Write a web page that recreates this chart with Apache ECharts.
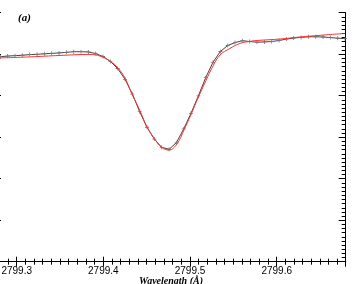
<!DOCTYPE html>
<html>
<head>
<meta charset="utf-8">
<script src="https://cdn.jsdelivr.net/npm/echarts@6/dist/echarts.min.js"></script>
<style>html,body{margin:0;padding:0;background:#fff}#c{width:357px;height:284px}</style>
</head>
<body>
<div id="c"></div>
<script>
// Observed spectrum (wavelength in Å, normalized intensity)
const obsWave = [2799.2812,2799.2896,2799.2981,2799.3065,2799.3150,2799.3235,2799.3319,2799.3404,2799.3489,2799.3573,2799.3658,2799.3742,2799.3827,2799.3912,2799.3996,2799.4081,2799.4165,2799.4250,2799.4335,2799.4419,2799.4504,2799.4588,2799.4673,2799.4758,2799.4842,2799.4927,2799.5011,2799.5096,2799.5181,2799.5265,2799.5350,2799.5435,2799.5519,2799.5604,2799.5688,2799.5773,2799.5858,2799.5942,2799.6027,2799.6111,2799.6196,2799.6281,2799.6365,2799.6450,2799.6535,2799.6619,2799.6704,2799.6788];
const obsFlux = [0.988,0.991,0.993,0.995,0.998,0.9995,1.002,1.004,1.006,1.009,1.012,1.012,1.011,1.003,0.989,0.965,0.931,0.879,0.808,0.723,0.648,0.591,0.551,0.542,0.573,0.640,0.715,0.799,0.887,0.961,1.013,1.042,1.056,1.065,1.061,1.058,1.059,1.061,1.066,1.073,1.078,1.081,1.084,1.084,1.083,1.080,1.077,1.075];
// Fitted profile
const fitWave = [2799.2807,2799.3153,2799.3500,2799.3846,2799.3961,2799.4077,2799.4169,2799.4250,2799.4330,2799.4423,2799.4503,2799.4596,2799.4676,2799.4757,2799.4849,2799.4930,2799.5011,2799.5092,2799.5184,2799.5265,2799.5346,2799.5461,2799.5577,2799.5692,2799.5807,2799.6038,2799.6269,2799.6500,2799.6788];
const fitFlux = [0.982,0.987,0.994,0.999,0.991,0.967,0.933,0.885,0.808,0.727,0.649,0.589,0.550,0.538,0.567,0.635,0.709,0.789,0.873,0.943,0.996,1.028,1.052,1.062,1.067,1.073,1.083,1.091,1.100];
const xTickLabels = ['2799.3','2799.4','2799.5','2799.6'];
const panelLabel = '(a)';
const xTitle = 'Wavelength (Å)';

const chart = echarts.init(document.getElementById('c'), null, {renderer:'canvas'});
const axLine = {show:true, lineStyle:{color:'#000', width:1}};
const xCommon = {
  type:'value', min:2799.2, max:2799.6796, interval:0.1,
  axisLine:axLine, splitLine:{show:false},
  axisTick:{show:true, inside:true, length:5, lineStyle:{color:'#000'}},
  minorTick:{show:true, splitNumber:10, length:3, lineStyle:{color:'#000'}}
};
const yCommon = {
  type:'value', min:0, max:1.2, interval:0.2,
  axisLine:axLine, splitLine:{show:false}, axisLabel:{show:false},
  axisTick:{show:true, inside:true, length:7, lineStyle:{color:'#000'}},
  minorTick:{show:true, splitNumber:10, length:4, lineStyle:{color:'#000'}}
};
chart.setOption({
  animation:false,
  grid:{left:-70, right:11.3, top:12.7, bottom:22.3, containLabel:false, outerBoundsMode:'none'},
  xAxis:[
    Object.assign({}, xCommon, {position:'bottom',
      axisLabel:{show:true, color:'#000', fontFamily:'Liberation Sans', fontSize:10, margin:5,
        showMaxLabel:false, showMinLabel:false,
        formatter:v=>{const s=v.toFixed(1); return xTickLabels.indexOf(s)>=0?s:'';}}}),
    Object.assign({}, xCommon, {position:'top', axisLabel:{show:false}})
  ],
  yAxis:[
    Object.assign({}, yCommon, {position:'left', offset:-64}),
    Object.assign({}, yCommon, {position:'right'})
  ],
  series:[
    {type:'line', xAxisIndex:0, yAxisIndex:0,
     data:obsWave.map((w,i)=>[w,obsFlux[i]]),
     lineStyle:{color:'#444', width:1}, itemStyle:{color:'#777'},
     symbol:'path://M2,0h1v2h2v1h-2v2h-1v-2h-2v-1h2z', symbolSize:4, showSymbol:true, z:2},
    {type:'line', xAxisIndex:0, yAxisIndex:0,
     data:fitWave.map((w,i)=>[w,fitFlux[i]]),
     smooth:0.4, showSymbol:false, lineStyle:{color:'#ff3030', width:1}, z:3}
  ],
  graphic:[
    {type:'text', left:18, top:13, style:{text:panelLabel, font:'italic bold 11px "Liberation Serif"', fill:'#000'}},
    {type:'text', left:139, top:276, style:{text:xTitle, font:'italic bold 10px "Liberation Serif"', fill:'#000'}}
  ]
});
</script>
</body>
</html>
